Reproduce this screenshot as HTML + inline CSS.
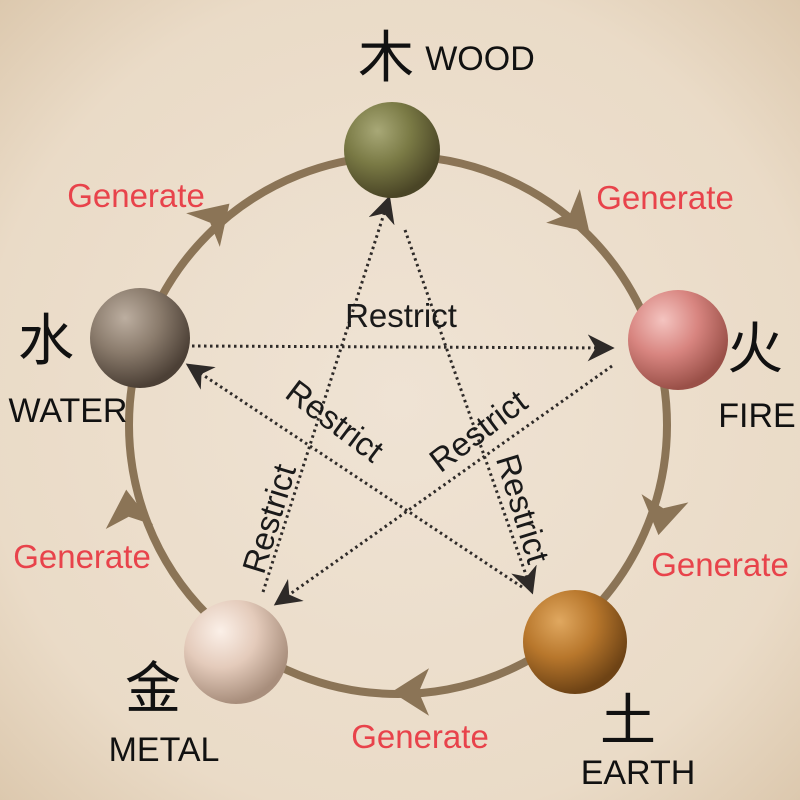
<!DOCTYPE html>
<html><head><meta charset="utf-8"><style>
html,body{margin:0;padding:0;width:800px;height:800px;overflow:hidden}
svg{display:block}
text{font-family:"Liberation Sans","Noto Sans CJK SC",sans-serif}
</style></head><body>
<svg width="800" height="800" viewBox="0 0 800 800" xmlns="http://www.w3.org/2000/svg">
<defs>
<radialGradient id="bg" cx="50%" cy="50%" r="75%">
<stop offset="0" stop-color="#efe3d4"/><stop offset="0.7" stop-color="#eadbc7"/><stop offset="1" stop-color="#d9c4a8"/>
</radialGradient>
<radialGradient id="gw" cx="35%" cy="30%" r="70%"><stop offset="0" stop-color="#a8a877"/><stop offset="0.5" stop-color="#7a7a45"/><stop offset="1" stop-color="#4a4526"/></radialGradient>
<radialGradient id="gf" cx="35%" cy="30%" r="70%"><stop offset="0" stop-color="#f4c4c0"/><stop offset="0.5" stop-color="#d88580"/><stop offset="1" stop-color="#9a5048"/></radialGradient>
<radialGradient id="ge" cx="35%" cy="30%" r="70%"><stop offset="0" stop-color="#e0a860"/><stop offset="0.5" stop-color="#b8772c"/><stop offset="1" stop-color="#6e4315"/></radialGradient>
<radialGradient id="gm" cx="35%" cy="30%" r="70%"><stop offset="0" stop-color="#fbf0e8"/><stop offset="0.5" stop-color="#e4cbbb"/><stop offset="1" stop-color="#a88e7c"/></radialGradient>
<radialGradient id="gwa" cx="35%" cy="30%" r="70%"><stop offset="0" stop-color="#bcaea0"/><stop offset="0.5" stop-color="#8a7b6c"/><stop offset="1" stop-color="#4c4036"/></radialGradient>
<marker id="ah" viewBox="0 0 10 10" refX="9" refY="5" markerWidth="9" markerHeight="9" orient="auto" markerUnits="strokeWidth">
<path d="M0,0 L10,5 L0,10 L3,5 z" fill="#2e2a28"/></marker>
</defs>
<rect width="800" height="800" fill="url(#bg)"/>
<circle cx="398" cy="425" r="269" fill="none" stroke="#8b7456" stroke-width="8"/>
<g fill="#8b7456">
<g transform="translate(215,218) rotate(-45) scale(1.7)"><path d="M12,0 L-10,-14 L-4,0 L-10,14 z"/></g>
<g transform="translate(575,218) rotate(45) scale(1.7)"><path d="M12,0 L-10,-14 L-4,0 L-10,14 z"/></g>
<g transform="translate(662,515) rotate(100) scale(1.7)"><path d="M12,0 L-10,-14 L-4,0 L-10,14 z"/></g>
<g transform="translate(412,692) rotate(180) scale(1.7)"><path d="M12,0 L-10,-14 L-4,0 L-10,14 z"/></g>
<g transform="translate(128,510) rotate(-95) scale(1.7)"><path d="M12,0 L-10,-14 L-4,0 L-10,14 z"/></g>
</g>
<g stroke="#2e2a28" stroke-width="3" stroke-dasharray="2.5 3.5" fill="none" marker-end="url(#ah)">
<line x1="405" y1="230" x2="532" y2="592"/>
<line x1="522" y1="587" x2="188" y2="365"/>
<line x1="192" y1="346" x2="612" y2="348"/>
<line x1="612" y1="366" x2="276" y2="604"/>
<line x1="263" y1="592" x2="389" y2="198"/>
</g>
<g font-size="33" fill="#1a1a1a" text-anchor="middle">
<text x="401" y="327">Restrict</text>
<text transform="translate(328,430) rotate(37)">Restrict</text>
<text transform="translate(485,440) rotate(-37)">Restrict</text>
<text transform="translate(280,522) rotate(-73)">Restrict</text>
<text transform="translate(512,512) rotate(73)">Restrict</text>
</g>
<circle cx="392" cy="150" r="48" fill="url(#gw)"/>
<circle cx="678" cy="340" r="50" fill="url(#gf)"/>
<circle cx="575" cy="642" r="52" fill="url(#ge)"/>
<circle cx="236" cy="652" r="52" fill="url(#gm)"/>
<circle cx="140" cy="338" r="50" fill="url(#gwa)"/>
<g font-size="33" fill="#e8434b" text-anchor="middle">
<text x="136" y="207">Generate</text>
<text x="665" y="209">Generate</text>
<text x="720" y="576">Generate</text>
<text x="82" y="568">Generate</text>
<text x="420" y="748">Generate</text>
</g>
<g fill="#111" text-anchor="middle">
<text x="386" y="77" font-size="56">木</text>
<text x="480" y="70" font-size="34">WOOD</text>
<text x="46" y="360" font-size="56">水</text>
<text x="68" y="422" font-size="34">WATER</text>
<text x="755" y="368" font-size="56">火</text>
<text x="757" y="427" font-size="34">FIRE</text>
<text x="628" y="740" font-size="56">土</text>
<text x="638" y="784" font-size="34">EARTH</text>
<text x="153" y="708" font-size="56">金</text>
<text x="164" y="761" font-size="34">METAL</text>
</g>
</svg>
</body></html>
